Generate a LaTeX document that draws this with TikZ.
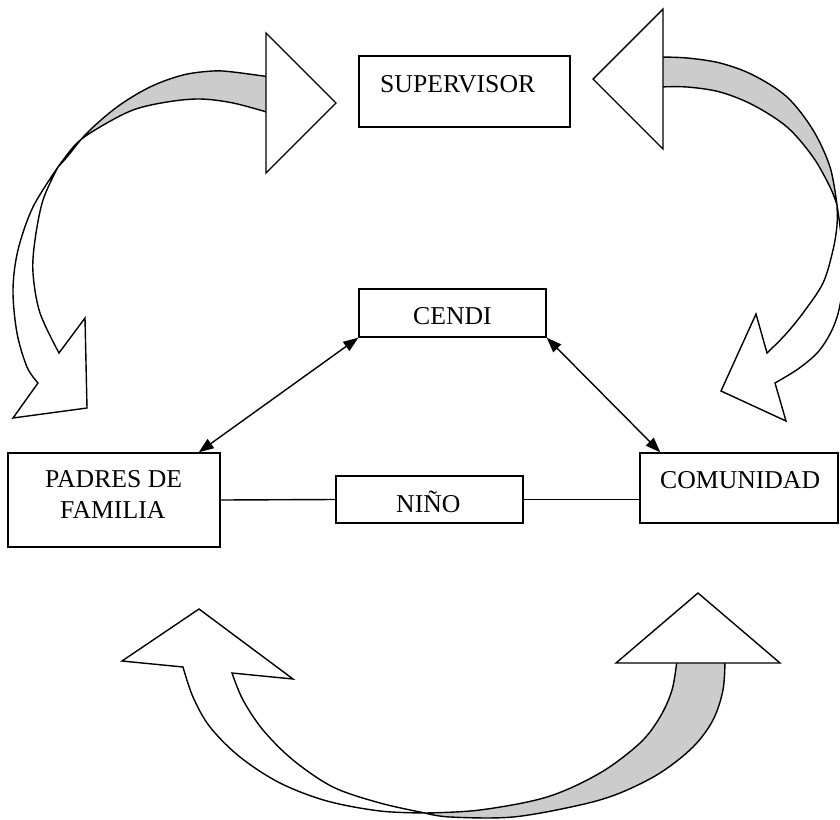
\documentclass[tikz,border=0pt]{standalone}
\usepackage{fontspec}
\setmainfont{Liberation Serif}
\usetikzlibrary{arrows.meta}
\definecolor{ribbongray}{RGB}{204,204,204}
\begin{document}
\begin{tikzpicture}[x=1pt, y=-1pt,
  every node/.style={font=\fontsize{25.7pt}{31pt}\selectfont},
  box/.style={draw, line width=1.4pt, inner sep=0pt, fill=white},
  label/.style={inner sep=0pt, anchor=base west},
  link/.style={line width=1.4pt},
  twoway/.style={line width=1.4pt, {Triangle[length=15pt,width=11pt]}-{Triangle[length=15pt,width=11pt]}},
  band/.style={draw, line width=1.4pt, fill=ribbongray, line join=round},
  body/.style={draw, line width=1.4pt, fill=white, line join=miter},
  head/.style={draw, line width=1.4pt, fill=white, line join=miter},
  curve/.style={smooth, tension=0.55}]
\useasboundingbox (0,0) rectangle (840,819);

% ---- curved arrow, upper left: shaded back of the ribbon ----
\path[band] plot[curve] coordinates {(270,77) (233,72) (213,71) (183,75) (150,87) (117,107) (87,133) (67,157) (58,167)}
  -- plot[curve] coordinates {(58,167) (77,143) (100,127) (133,110) (167,102) (200,99) (233,103) (270,113)} -- cycle;
% front of the ribbon with its head
\path[body] plot[curve] coordinates {(58,167) (33,207) (18,250) (13,290) (17,333) (27,367) (38,383)}
  -- (13,418) -- (87,408) -- (85,318) -- (59,353)
  -- plot[curve] coordinates {(59,353) (40,313) (33,273) (35,240) (43,200) (58,167)} -- cycle;
\path[head] (266,33) -- (336,103) -- (266,173) -- cycle;

% ---- curved arrow, upper right ----
\path[band] plot[curve] coordinates {(659,57) (687,58) (720,63) (753,75) (787,97) (813,130) (830,167) (837,205)}
  -- plot[curve] coordinates {(837,205) (830,187) (813,157) (787,127) (753,105) (720,92) (687,87) (659,87)} -- cycle;
\path[body] plot[curve] coordinates {(837,205) (841,235) (843,270) (840,305) (832,330) (818,352) (798,369) (775,383)}
  -- (786,421) -- (721,391) -- (756,314) -- (767,353)
  -- plot[curve] coordinates {(767,353) (785,335) (803,313) (823,283) (833,250) (837,225) (837,205)} -- cycle;
\path[head] (663,9) -- (593,79) -- (663,149) -- cycle;

% ---- curved arrow, bottom ----
\path[body] plot[curve] coordinates {(183,667) (193,697) (210,727) (240,757) (280,783) (327,801) (380,811) (425,813)}
  -- plot[curve] coordinates {(425,813) (380,803) (333,787) (293,760) (263,730) (243,700) (232,673)}
  -- (293,679) -- (199,609) -- (122,661) -- cycle;
\path[band] plot[curve] coordinates {(425,813) (480,810) (547,797) (600,773) (640,743) (660,717) (672,690) (677,660)}
  -- plot[curve] coordinates {(725,660) (723,690) (713,720) (693,747) (660,773) (620,793) (580,805) (513,817) (450,817) (425,813)} -- cycle;
\path[head] (616,663) -- (698,593) -- (780,663) -- cycle;

% ---- boxes ----
\node[box, minimum width=211pt, minimum height=71pt] (supervisor) at (464.5,91.5) {};
\node[box, minimum width=187pt, minimum height=48pt] (cendi) at (452.5,313) {};
\node[box, minimum width=212pt, minimum height=94pt] (padres) at (114,500) {};
\node[box, minimum width=187pt, minimum height=47pt] (nino) at (429.5,499.5) {};
\node[box, minimum width=198pt, minimum height=70pt] (comunidad) at (739,488) {};

% ---- labels ----
\node[label] (tsupervisor) at (380,92) {SUPERVISOR};
\node[label] (tcendi) at (413,324) {CENDI};
\node[label] (tpadresa) at (45,487) {PADRES DE};
\node[label] (tpadresb) at (60,518) {FAMILIA};
\node[label] (tnino) at (396,512) {NIÑO};
\node[label] (tcomunidad) at (660,488) {COMUNIDAD};

% ---- connectors ----
\draw[link] (padres.east) -- (nino.west);
\draw[link] (nino.east) -- (nino.east -| comunidad.west);
\draw[twoway] (cendi.south west) -- ([xshift=-22pt]padres.north east);
\draw[twoway] (cendi.south east) -- ([xshift=21pt]comunidad.north west);
\end{tikzpicture}
\end{document}
